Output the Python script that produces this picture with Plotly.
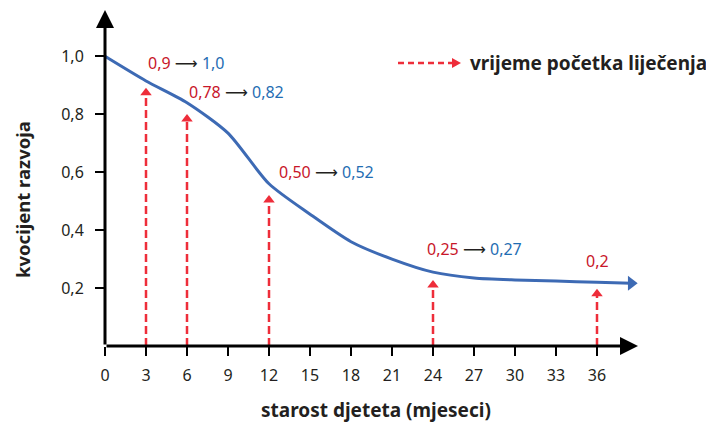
import plotly.graph_objects as go

# ---- data ----
months = [0, 3, 6, 9, 12, 15, 18, 21, 24, 27, 30, 33, 36, 38.5]
quotient = [1.0, 0.915, 0.84, 0.735, 0.56, 0.455, 0.36, 0.30, 0.255, 0.235, 0.228, 0.224, 0.22, 0.217]

x_ticks = list(range(0, 37, 3))
x_tick_labels = [str(v) for v in x_ticks]
y_ticks = [0.2, 0.4, 0.6, 0.8, 1.0]
y_tick_labels = ["0,2", "0,4", "0,6", "0,8", "1,0"]

treat_months = [3, 6, 12, 24, 36]
treat_tips = [0.89, 0.80, 0.52, 0.227, 0.196]
before = ["0,9", "0,78", "0,50", "0,25", "0,2"]
after = ["1,0", "0,82", "0,52", "0,27", ""]
label_y = [0.977, 0.877, 0.60, 0.334, 0.293]
label_dx = [0, 0, 8, -8, 0]

RED_LINE = "#ee2d3a"
RED_TXT = "#c8162a"
BLUE_TXT = "#1f6db3"
CURVE = "#3d6ab4"
DARK = "#231f20"
FONT = "Noto Sans"

fig = go.Figure()

# treatment arrows (dashed shafts + triangle heads)
head = 0.016
for m, t in zip(treat_months, treat_tips):
    fig.add_trace(go.Scatter(x=[m, m], y=[0, t - head], mode="lines",
                             line=dict(color=RED_LINE, width=2.5, dash="8px,4px"),
                             hoverinfo="skip", showlegend=False))
fig.add_trace(go.Scatter(x=treat_months, y=[t - head for t in treat_tips], mode="markers",
                         marker=dict(symbol="triangle-up", size=10, color=RED_LINE),
                         hoverinfo="skip", showlegend=False))

# development curve
fig.add_trace(go.Scatter(x=months, y=quotient, mode="lines",
                         line=dict(color=CURVE, width=3, shape="spline", smoothing=0.7),
                         showlegend=False))
fig.add_trace(go.Scatter(x=[months[-1]], y=[quotient[-1]], mode="markers",
                         marker=dict(symbol="triangle-right", size=13, color=CURVE),
                         hoverinfo="skip", showlegend=False))

ann = []
# axis arrows
ann.append(dict(x=39, y=0, ax=0, ay=0, xref="x", yref="y", axref="x", ayref="y",
                text="", showarrow=True, arrowhead=2, arrowsize=1.2, arrowwidth=3,
                arrowcolor="black"))
ann.append(dict(x=0, y=1.16, ax=0, ay=0, xref="x", yref="y", axref="x", ayref="y",
                text="", showarrow=True, arrowhead=2, arrowsize=1.2, arrowwidth=3,
                arrowcolor="black"))

ARROW = "<span style='font-family:DejaVu Sans'>⟶</span>"

# value labels
for i, (m, b, a) in enumerate(zip(treat_months, before, after)):
    if a:
        txt = (f"<span style='color:{RED_TXT}'>{b}</span>"
               f"<span style='color:{DARK}'> {ARROW} </span>"
               f"<span style='color:{BLUE_TXT}'>{a}</span>")
        xa = "left"
    else:
        txt = f"<span style='color:{RED_TXT}'>{b}</span>"
        xa = "center"
    ann.append(dict(x=m, y=label_y[i], xref="x", yref="y", text=txt, showarrow=False,
                    xanchor=xa, yanchor="middle", xshift=label_dx[i],
                    font=dict(family=FONT, size=16, color=RED_TXT)))

# legend text
ann.append(dict(x=(468 - 105) / 533, y=0.842, xref="paper", yref="paper",
                text="<b>vrijeme početka liječenja</b>", showarrow=False,
                xanchor="left", yanchor="middle",
                font=dict(family=FONT, size=19, color=DARK)))

# axis titles
ann.append(dict(x=(376 - 105) / 533, y=-(410 - 346) / 336, xref="paper", yref="paper",
                showarrow=False, xanchor="center", yanchor="middle",
                text="<b>starost djeteta (mjeseci)</b>",
                font=dict(family=FONT, size=19, color=DARK)))
ann.append(dict(x=-(105 - 22) / 533, y=(346 - 200) / 336, xref="paper", yref="paper",
                showarrow=False, textangle=-90, xanchor="center", yanchor="middle",
                text="<b>kvocijent razvoja</b>", font=dict(family=FONT, size=18.5, color=DARK)))

shapes = [
    dict(type="line", xref="paper", yref="paper", x0=(398 - 105) / 533, x1=(453 - 105) / 533,
         y0=0.842, y1=0.842, line=dict(color=RED_LINE, width=2.5, dash="6px,4px")),
    dict(type="path", xref="paper", yref="paper",
         path=f"M {(452-105)/533},{(346-58)/336} L {(461-105)/533},{(346-63)/336} "
              f"L {(452-105)/533},{(346-68)/336} Z",
         fillcolor=RED_LINE, line=dict(width=0)),
]

fig.update_layout(
    width=706, height=414,
    margin=dict(l=97, r=76, t=2, b=76, autoexpand=False),
    plot_bgcolor="white", paper_bgcolor="white",
    font=dict(family=FONT, size=16, color=DARK),
    annotations=ann, shapes=shapes,
    xaxis=dict(range=[0, 39], tickvals=x_ticks, ticktext=x_tick_labels,
               showgrid=False, zeroline=False, showline=False, automargin=False,
               ticks="outside", ticklen=9, tickwidth=1.5, tickcolor="black",
               ticklabelstandoff=6, tickfont=dict(size=16, color=DARK)),
    yaxis=dict(range=[0, 1.16], tickvals=y_ticks, ticktext=y_tick_labels,
               showgrid=False, zeroline=False, showline=False, automargin=False,
               ticks="outside", ticklen=9, tickwidth=1.5, tickcolor="black",
               ticklabelstandoff=8, tickfont=dict(size=16, color=DARK)),
)

fig.write_html("out.html")
